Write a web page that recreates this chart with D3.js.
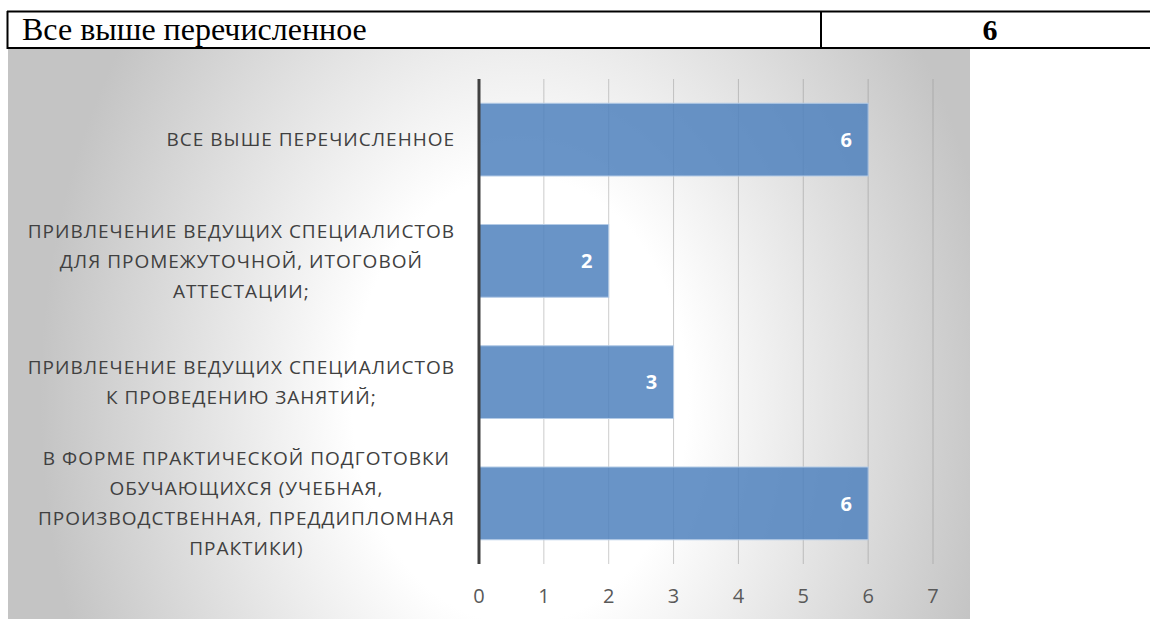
<!doctype html>
<html>
<head>
<meta charset="utf-8">
<title>Chart</title>
<script src="https://d3js.org/d3.v7.min.js"></script>
<style>
body { margin: 0; background: #fff; }
svg { display: block; }
</style>
</head>
<body>
<div id="container"></div>
<script>

// table row above the chart
var tableLabel = "Все выше перечисленное";
var tableValue = "6";

// chart data (top to bottom)
var categories = [
  "ВСЕ ВЫШЕ ПЕРЕЧИСЛЕННОЕ",
  "ПРИВЛЕЧЕНИЕ ВЕДУЩИХ СПЕЦИАЛИСТОВ\nДЛЯ ПРОМЕЖУТОЧНОЙ, ИТОГОВОЙ\nАТТЕСТАЦИИ;",
  "ПРИВЛЕЧЕНИЕ ВЕДУЩИХ СПЕЦИАЛИСТОВ\nК ПРОВЕДЕНИЮ ЗАНЯТИЙ;",
  "В ФОРМЕ ПРАКТИЧЕСКОЙ ПОДГОТОВКИ\nОБУЧАЮЩИХСЯ (УЧЕБНАЯ,\nПРОИЗВОДСТВЕННАЯ, ПРЕДДИПЛОМНАЯ\nПРАКТИКИ)"
];
var values = [6, 2, 3, 6];
var xTicks = [0, 1, 2, 3, 4, 5, 6, 7];

var width = 1150, height = 619;

var svg = d3.select("#container")
  .append("svg")
  .attr("width", width)
  .attr("height", height);

// background: soft radial gradient, taller than wide
var defs = svg.append("defs");
var grad = defs.append("radialGradient")
  .attr("id", "bg")
  .attr("gradientUnits", "userSpaceOnUse")
  .attr("cx", 520).attr("cy", 400).attr("r", 480)
  .attr("fx", 520).attr("fy", 400)
  .attr("gradientTransform", "translate(520,400) scale(1,1.333) translate(-520,-400)");
grad.append("stop").attr("offset", "0").attr("stop-color", "#ffffff");
grad.append("stop").attr("offset", "0.35").attr("stop-color", "#ffffff");
grad.append("stop").attr("offset", "1").attr("stop-color", "#c4c4c4");

//// table row ////
var table = svg.append("g");
table.append("line").attr("x1", 7).attr("x2", 1150).attr("y1", 11.5).attr("y2", 11.5)
  .attr("stroke", "#000").attr("stroke-width", 2);
table.append("line").attr("x1", 7).attr("x2", 1150).attr("y1", 48).attr("y2", 48)
  .attr("stroke", "#000").attr("stroke-width", 2);
table.append("line").attr("x1", 7.5).attr("x2", 7.5).attr("y1", 11).attr("y2", 49)
  .attr("stroke", "#000").attr("stroke-width", 2);
table.append("line").attr("x1", 821).attr("x2", 821).attr("y1", 11).attr("y2", 49)
  .attr("stroke", "#000").attr("stroke-width", 2);
table.append("text")
  .attr("x", 22).attr("y", 40)
  .style("font-family", "'Liberation Serif', 'Times New Roman', serif")
  .style("font-size", "32px")
  .attr("fill", "#000")
  .text(tableLabel);
table.append("text")
  .attr("x", 990).attr("y", 40)
  .attr("text-anchor", "middle")
  .style("font-family", "'Liberation Serif', 'Times New Roman', serif")
  .style("font-size", "30px")
  .style("font-weight", "bold")
  .attr("fill", "#000")
  .text(tableValue);

//// chart ////
svg.append("rect")
  .attr("x", 8).attr("y", 49)
  .attr("width", 962).attr("height", 570)
  .attr("fill", "url(#bg)");

var x = d3.scaleLinear().domain([0, 7]).range([479, 933]);
var y = d3.scaleBand().domain(categories).range([79, 564])
  .paddingInner(0.4).paddingOuter(0.2);

// gridlines
svg.append("g")
  .selectAll("line")
  .data(xTicks.filter(function(d){ return d > 0; }))
  .enter().append("line")
  .attr("x1", function(d){ return x(d); })
  .attr("x2", function(d){ return x(d); })
  .attr("y1", 79).attr("y2", 564)
  .attr("stroke", "#8c8c8c")
  .attr("stroke-opacity", 0.45)
  .attr("stroke-width", 1);

// bars
svg.append("g")
  .selectAll("rect")
  .data(values)
  .enter().append("rect")
  .attr("x", x(0))
  .attr("y", function(d, i){ return y(categories[i]); })
  .attr("width", function(d){ return x(d) - x(0); })
  .attr("height", y.bandwidth())
  .attr("fill", "#4f81bd")
  .attr("fill-opacity", 0.85)
  .attr("stroke", "#b4cbe6")
  .attr("stroke-width", 1);

// value labels
svg.append("g")
  .selectAll("text")
  .data(values)
  .enter().append("text")
  .attr("x", function(d){ return x(d) - 22; })
  .attr("y", function(d, i){ return y(categories[i]) + y.bandwidth() / 2; })
  .attr("dy", "0.36em")
  .attr("text-anchor", "middle")
  .style("font-family", "'Open Sans', sans-serif")
  .style("font-size", "20px")
  .style("font-weight", "bold")
  .attr("fill", "#fff")
  .text(function(d){ return d; });

// axis line at zero
svg.append("line")
  .attr("x1", x(0)).attr("x2", x(0))
  .attr("y1", 79).attr("y2", 564)
  .attr("stroke", "#404040")
  .attr("stroke-width", 3);

// x tick labels
svg.append("g")
  .selectAll("text")
  .data(xTicks)
  .enter().append("text")
  .attr("x", function(d){ return x(d); })
  .attr("y", 596)
  .attr("dy", "0.36em")
  .attr("text-anchor", "middle")
  .style("font-family", "'Open Sans', sans-serif")
  .style("font-size", "20px")
  .attr("fill", "#595959")
  .text(function(d){ return d; });

// category labels, lines centered inside a block right-aligned at 455
var lineH = 30;
var catG = svg.append("g")
  .selectAll("g")
  .data(categories)
  .enter().append("g");

catG.each(function(c){
  var g = d3.select(this);
  var lines = c.split("\n");
  var cy = y(c) + y.bandwidth() / 2;
  var texts = g.selectAll("text")
    .data(lines)
    .enter().append("text")
    .attr("y", function(d, i){ return cy + (i - (lines.length - 1) / 2) * lineH; })
    .attr("dy", "0.36em")
    .attr("text-anchor", "middle")
    .style("font-family", "'Open Sans', sans-serif")
    .style("font-size", "19px")
    .style("letter-spacing", "1px")
    .attr("fill", "#404040")
    .text(function(d){ return d; });
  var maxW = 0;
  texts.each(function(){ maxW = Math.max(maxW, this.getComputedTextLength()); });
  texts.attr("x", 455 - maxW / 2);
});

</script>
</body>
</html>
